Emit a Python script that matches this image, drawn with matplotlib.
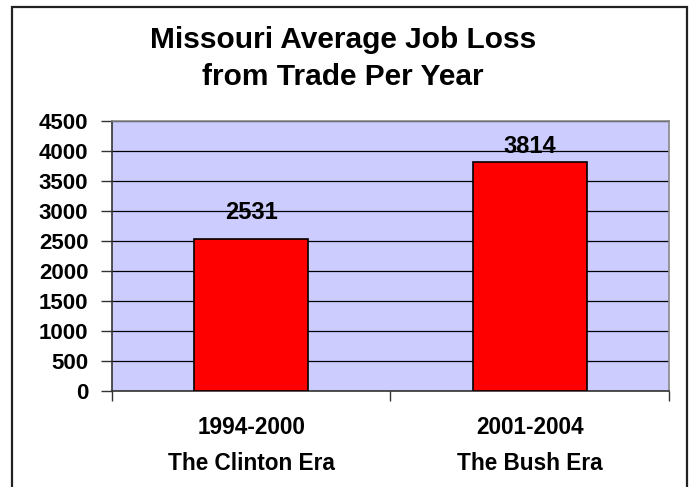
import matplotlib.pyplot as plt
from matplotlib.patches import Rectangle

plt.rcParams['font.family'] = ['Liberation Sans', 'DejaVu Sans']
plt.rcParams['font.weight'] = 'bold'

periods = ['1994-2000', '2001-2004']
eras = ['The Clinton Era', 'The Bush Era']
job_loss = [2531, 3814]
yticks = [0, 500, 1000, 1500, 2000, 2500, 3000, 3500, 4000, 4500]

fig = plt.figure(figsize=(6.92, 4.87), dpi=100)
ax = fig.add_axes([0.1618, 0.1971, 0.805, 0.5544])
ax.set_facecolor('#CCCCFF')

x = list(range(len(job_loss)))
bars = ax.bar(x, job_loss, width=0.41, color='#FF0000', edgecolor='black', linewidth=1.2, zorder=3)

# value labels sit at different heights above each bar
offsets = [11, 3]
for b, v, off in zip(bars, job_loss, offsets):
    ax.annotate(str(v), (b.get_x() + b.get_width() / 2, v), xytext=(0, off),
                textcoords='offset points', ha='center', va='bottom',
                fontsize=17, fontweight='bold', zorder=4)

ax.set_xlim(-0.5, 1.5)
ax.set_ylim(0, 4500)
ax.set_yticks(yticks)
ax.set_yticklabels([str(t) for t in yticks], fontsize=16, fontweight='bold')
ax.yaxis.grid(True, color='black', linewidth=0.9, zorder=1)
ax.set_axisbelow(True)

ax.set_xticks(x)
ax.set_xticklabels([p + '\n' + e for p, e in zip(periods, eras)], fontsize=16.3,
                   fontweight='bold', linespacing=1.7)
ax.set_xticks([-0.5, 0.5, 1.5], minor=True)
ax.tick_params(axis='x', which='major', length=0, pad=18)
ax.tick_params(axis='x', which='minor', length=7, width=1, color='#333333', direction='out')
ax.tick_params(axis='y', length=8, width=1, color='#333333', pad=9)

for side in ['top', 'right']:
    ax.spines[side].set_color('#888888')
    ax.spines[side].set_linewidth(1.2)
ax.spines['left'].set_color('#333333')
ax.spines['bottom'].set_color('#333333')
ax.spines['left'].set_linewidth(1.2)
ax.spines['bottom'].set_linewidth(1.2)

fig.text(343 / 692, 1 - 40 / 487, 'Missouri Average Job Loss', ha='center', va='center',
         fontsize=21.5, fontweight='bold')
fig.text(343 / 692, 1 - 77 / 487, 'from Trade Per Year', ha='center', va='center',
         fontsize=21.5, fontweight='bold')

# outer border, running off the bottom edge
fig.patches.append(Rectangle((12 / 692, -0.02), 675 / 692, 1 - 7 / 487 + 0.02,
                             transform=fig.transFigure, fill=False,
                             edgecolor='#222222', linewidth=1.6))

fig.savefig('out.png', dpi=100)
